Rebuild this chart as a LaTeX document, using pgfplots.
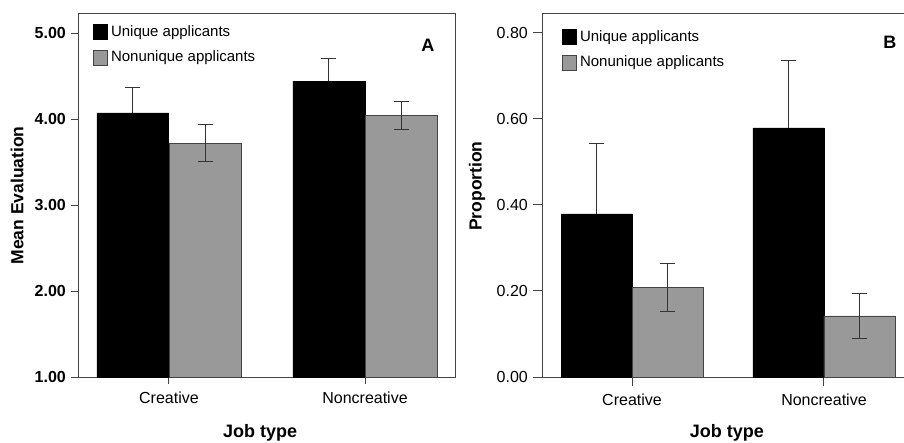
\documentclass[border=0pt]{standalone}
\usepackage{fontspec}
\setmainfont{Liberation Sans}
\usepackage{pgfplots}
\pgfplotsset{compat=1.18}
\definecolor{bargray}{HTML}{999999}
\definecolor{framecol}{HTML}{444444}
\definecolor{errcol}{HTML}{333333}
\pgfplotsset{
  panel/.style={
    scale only axis, height=363pt,
    axis line style={framecol, line width=1pt},
    tick style={framecol, line width=1pt},
    tick align=outside, major tick length=7pt,
    xtick={0,1}, xticklabels={Creative,Noncreative},
    xtick pos=bottom, ytick pos=left,
    ybar, bar shift=0pt,
    xticklabel style={font=\fontsize{16}{16}\selectfont, inner sep=0pt, yshift=-8pt},
    yticklabel style={inner sep=0pt, xshift=-5pt},
    legend cell align=left,
    legend image code/.code={\draw[##1] (0pt,-7.5pt) rectangle (14pt,7.5pt);},
    legend style={draw=none, fill=none, inner sep=0pt, row sep=10pt, column sep=3pt,
      font=\fontsize{15}{15}\selectfont, nodes={inner sep=0pt, text height=11pt, text depth=3pt}},
  },
  errs/.style={
    error bars/y dir=#1, error bars/y explicit,
    error bars/error bar style={line width=1pt, errcol},
    error bars/error mark options={rotate=90, mark size=7.5pt, line width=1pt, errcol},
  },
  uniq/.style={fill=black, draw=black, line width=0.8pt, errs=plus},
  nonuniq/.style={fill=bargray, draw=framecol, line width=0.8pt, errs=both},
}
\begin{document}
\begin{tikzpicture}
\path[use as bounding box, clip] (0pt,0pt) rectangle (904pt,-443pt);
\begin{axis}[panel,
  width=377pt, at={(78pt,-377pt)}, anchor=south west,
  xmin=-0.464, xmax=1.459, ymin=1, ymax=5.221,
  bar width=0.367,
  ytick={1,2,3,4,5}, yticklabels={1.00,2.00,3.00,4.00,5.00},
  yticklabel style={font=\bfseries\fontsize{16}{16}\selectfont},
  legend style={at={(0.0398,0.9725)}, anchor=north west},
  xlabel={Job type}, ylabel={Mean Evaluation},
  xlabel style={font=\bfseries\fontsize{18}{18}\selectfont, at={(axis description cs:0.483,-0.154)}, anchor=center},
  ylabel style={font=\bfseries\fontsize{17.5}{17.5}\selectfont, at={(axis description cs:-0.1618,0.5)}, anchor=center},
]
\addplot[uniq] coordinates {(-0.184,4.07) +- (0,0.30) (0.816,4.44) +- (0,0.26)};
\addplot[nonuniq] coordinates {(0.184,3.72) +- (0,0.215) (1.184,4.04) +- (0,0.165)};
\legend{Unique applicants, Nonunique applicants}
\node[font=\bfseries\fontsize{18}{18}\selectfont] at (axis description cs:0.928,0.915) {A};
\end{axis}
\begin{axis}[panel,
  width=372pt, at={(542pt,-377pt)}, anchor=south west,
  xmin=-0.469, xmax=1.469, ymin=0, ymax=0.844,
  bar width=0.37,
  ytick={0,0.2,0.4,0.6,0.8}, yticklabels={0.00,0.20,0.40,0.60,0.80},
  major tick length=9pt,
  yticklabel style={font=\fontsize{16}{16}\selectfont},
  legend style={at={(0.0538,0.9587)}, anchor=north west},
  xlabel={Job type}, ylabel={Proportion},
  xlabel style={font=\bfseries\fontsize{18}{18}\selectfont, at={(axis description cs:0.497,-0.154)}, anchor=center},
  ylabel style={font=\bfseries\fontsize{17.5}{17.5}\selectfont, at={(axis description cs:-0.1747,0.526)}, anchor=center},
]
\addplot[uniq] coordinates {(-0.185,0.379) +- (0,0.163) (0.815,0.579) +- (0,0.158)};
\addplot[nonuniq] coordinates {(0.185,0.209) +- (0,0.056) (1.185,0.142) +- (0,0.053)};
\legend{Unique applicants, Nonunique applicants}
\node[font=\bfseries\fontsize{18}{18}\selectfont] at (axis description cs:0.935,0.923) {B};
\end{axis}
\end{tikzpicture}
\end{document}
